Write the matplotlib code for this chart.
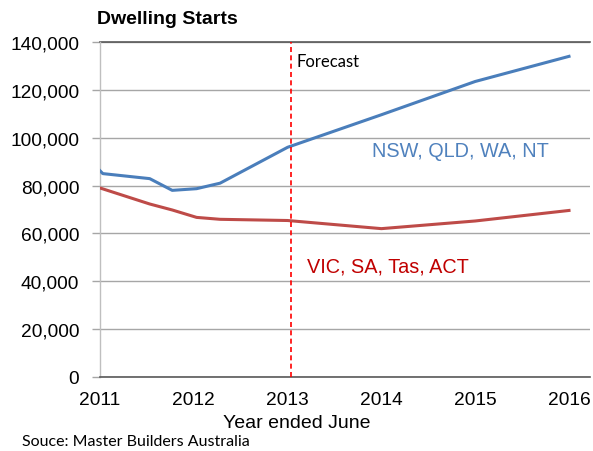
import matplotlib
matplotlib.use("Agg")
import matplotlib.pyplot as plt
from matplotlib.ticker import FuncFormatter

# Data (year ended June, fractional years)
years_nsw = [2011.0, 2011.03, 2011.53, 2011.77, 2012.03, 2012.28, 2013.0, 2014.0, 2015.0, 2016.0]
nsw_qld_wa_nt = [86200, 85000, 82900, 78000, 78700, 81000, 96000, 109600, 123500, 134000]
years_vic = [2011.0, 2011.53, 2011.77, 2012.03, 2012.28, 2013.0, 2014.0, 2015.0, 2016.0]
vic_sa_tas_act = [79000, 72300, 69800, 66700, 65900, 65400, 62000, 65200, 69600]
forecast_year = 2013.04
x_ticks = [2011, 2012, 2013, 2014, 2015, 2016]
y_ticks = [0, 20000, 40000, 60000, 80000, 100000, 120000, 140000]

plt.rcParams['font.family'] = ['Liberation Sans', 'DejaVu Sans']

fig = plt.figure(figsize=(5.93, 4.52), dpi=100)
ax = fig.add_axes([100/593, 1 - 378/452, 490/593, 335/452])

blue = '#4A7EBB'
red = '#BE4B48'

ax.plot(years_nsw, nsw_qld_wa_nt, color=blue, lw=2.2, solid_joinstyle='round', zorder=3)
ax.plot(years_vic, vic_sa_tas_act, color=red, lw=2.2, solid_joinstyle='round', zorder=3)
ax.axvline(forecast_year, color='#FF0000', lw=1.2, ls=(0, (3, 2)), zorder=4)

ax.set_xlim(2011, 2016 + 21/93.8)
ax.set_ylim(0, 140000)
ax.set_xticks(x_ticks)
ax.set_yticks(y_ticks)
ax.yaxis.set_major_formatter(FuncFormatter(lambda v, p: f"{int(v):,}"))
ax.grid(axis='y', color='#A6A6A6', lw=1.0, zorder=0)
ax.set_axisbelow(True)

for s in ['top', 'right']:
    ax.spines[s].set_visible(False)
ax.spines['left'].set_color('#BFBFBF')
ax.spines['left'].set_linewidth(1.0)
ax.spines['bottom'].set_color('#595959')
ax.spines['bottom'].set_linewidth(1.2)

ax.tick_params(axis='x', length=0, pad=10, labelsize=13.8, colors='black')
ax.tick_params(axis='y', length=6, width=1, color='#A6A6A6', pad=9, labelsize=13.8, labelcolor='black')

ax.plot([2011, 2016 + 21/93.8], [140000, 140000], color='#595959', lw=1.2, clip_on=False, zorder=2)

fig.text(97/593, 1 - 20/452, 'Dwelling Starts', fontsize=14, fontweight='bold', va='center', ha='left')
fig.text(296.5/593, 1 - 424/452, 'Year ended June', fontsize=14, va='center', ha='center')
fig.text(22/593, 1 - 442/452, 'Souce: Master Builders Australia', fontsize=11.5, va='center', ha='left',
         family=['Lato', 'DejaVu Sans'])
ax.text(2013.09, 132000, 'Forecast', fontsize=12, va='center', ha='left', family=['Lato', 'DejaVu Sans'])
ax.text(2014.84, 94800, 'NSW, QLD, WA, NT', fontsize=14.3, color='#4F81BD', va='center', ha='center')
ax.text(2014.07, 46200, 'VIC, SA, Tas, ACT', fontsize=14.3, color='#C00000', va='center', ha='center')

fig.savefig('out.png', dpi=100)
